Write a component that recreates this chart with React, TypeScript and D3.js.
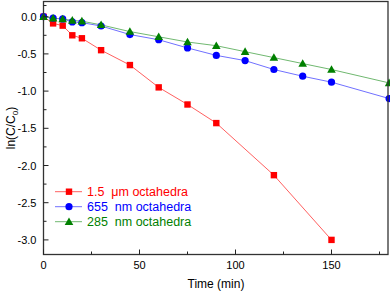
import React from "react";
import * as d3 from "d3";

const redTimes = [0, 5, 10, 15, 20, 30, 45, 60, 75, 90, 120, 150];
const redValues = [0, -0.09, -0.12, -0.25, -0.29, -0.45, -0.65, -0.95, -1.18, -1.43, -2.13, -3.0];
const blueTimes = [0, 5, 10, 15, 20, 30, 45, 60, 75, 90, 105, 120, 135, 150, 180];
const blueValues = [0, -0.02, -0.03, -0.07, -0.08, -0.125, -0.24, -0.31, -0.42, -0.52, -0.59, -0.71, -0.8, -0.88, -1.1];
const greenTimes = [0, 5, 10, 15, 20, 30, 45, 60, 75, 90, 105, 120, 135, 150, 180];
const greenValues = [0, -0.02, -0.03, -0.05, -0.06, -0.11, -0.2, -0.27, -0.34, -0.39, -0.47, -0.55, -0.63, -0.71, -0.89];
const xTicks = [0, 50, 100, 150];
const xMinor = [25, 75, 125, 175];
const yTicks = [0, -0.5, -1.0, -1.5, -2.0, -2.5, -3.0];
const yMinor = [0.15, -0.25, -0.75, -1.25, -1.75, -2.25, -2.75];
const legendLabels = ["1.5  \u03bcm octahedra", "655  nm octahedra", "285  nm octahedra"];

const W = 390, H = 292;
const L = 43.5, R = 388, T = 1.5, B = 254.5;

export default function App() {
  const x = d3.scaleLinear().domain([0, 180]).range([L, L + 1.92 * 180]);
  const y = d3.scaleLinear().domain([0.2, -3.2]).range([16.7 - 0.2 * 74.4, 16.7 + 3.2 * 74.4]);
  const line = d3.line<[number, number]>().x(d => x(d[0])).y(d => y(d[1]));
  const series = [
    { t: redTimes, v: redValues, mc: "#ff0000", lc: "#ff6060", shape: "square" },
    { t: blueTimes, v: blueValues, mc: "#0000ff", lc: "#7070ff", shape: "circle" },
    { t: greenTimes, v: greenValues, mc: "#008000", lc: "#70b870", shape: "triangle" },
  ];
  const marker = (shape: string, cx: number, cy: number, c: string, key: any) => {
    if (shape === "square") return <rect key={key} x={cx - 3.2} y={cy - 3.2} width={6.4} height={6.4} fill={c} />;
    if (shape === "circle") return <circle key={key} cx={cx} cy={cy} r={3.6} fill={c} />;
    const s = 4.3;
    return <path key={key} d={`M${cx},${cy - s}L${cx + s},${cy + s * 0.75}L${cx - s},${cy + s * 0.75}Z`} fill={c} />;
  };
  const font = "Liberation Sans, Arial, sans-serif";
  return (
    <svg width={W} height={H} style={{ position: "absolute", left: 0, top: 0, background: "#fff" }}>
      <g clipPath="url(#clip)">
        {series.map((s, i) => (
          <path key={i} d={line(s.t.map((t, j) => [t, s.v[j]] as [number, number])) || ""} fill="none" stroke={s.lc} strokeWidth={1} />
        ))}
        {series.map((s, i) => s.t.map((t, j) => marker(s.shape, x(t), y(s.v[j]), s.mc, `${i}-${j}`)))}
      </g>
      <defs>
        <clipPath id="clip"><rect x={L - 6} y={T - 6} width={R - L + 12} height={B - T + 12} /></clipPath>
      </defs>
      <rect x={L} y={T} width={R - L} height={B - T} fill="none" stroke="#333" strokeWidth={1.3} />
      {xTicks.map(t => (
        <g key={t}>
          <line x1={x(t)} x2={x(t)} y1={B} y2={B - 5} stroke="#222" />
          <text x={x(t)} y={269} textAnchor="middle" fontSize={11} fontFamily={font}>{t}</text>
        </g>
      ))}
      {xMinor.map(t => <line key={t} x1={x(t)} x2={x(t)} y1={B} y2={B - 3} stroke="#222" />)}
      {yTicks.map(t => (
        <g key={t}>
          <line x1={L} x2={L + 5} y1={y(t)} y2={y(t)} stroke="#222" />
          <text x={36.5} y={y(t) + 4} textAnchor="end" fontSize={11} fontFamily={font}>{t.toFixed(1)}</text>
        </g>
      ))}
      {yMinor.map(t => <line key={t} x1={L} x2={L + 3} y1={y(t)} y2={y(t)} stroke="#222" />)}
      <text x={216} y={288} textAnchor="middle" fontSize={12} fontFamily={font}>Time (min)</text>
      <text transform={`translate(15,${(T + B) / 2}) rotate(-90)`} textAnchor="middle" fontSize={12} fontFamily={font}>
        ln(C/C<tspan fontSize={8} dy={3}>0</tspan><tspan dy={-3}>)</tspan>
      </text>
      {series.map((s, i) => {
        const ly = 191.7 + i * 15;
        return (
          <g key={i}>
            <line x1={55} x2={82} y1={ly} y2={ly} stroke={s.lc} strokeWidth={1} />
            {marker(s.shape, 69, ly, s.mc, "m")}
            <text x={87} y={ly + 4.5} fontSize={12.5} fontFamily={font} fill={s.mc} style={{ whiteSpace: "pre" }}>{legendLabels[i]}</text>
          </g>
        );
      })}
    </svg>
  );
}
